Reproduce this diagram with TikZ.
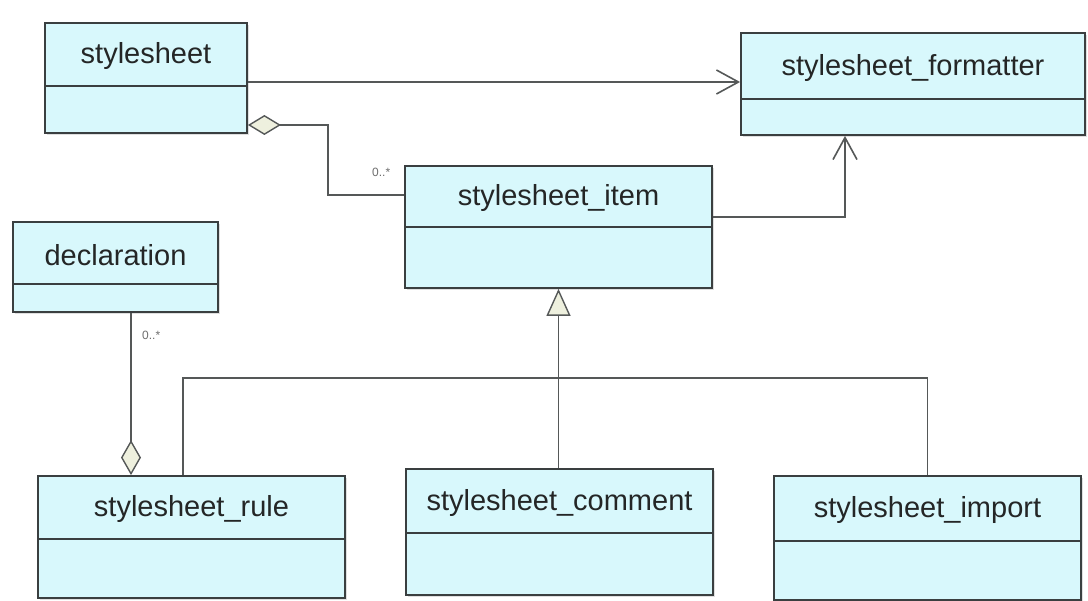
\documentclass[tikz,border=0pt]{standalone}
\usepackage{fontspec}
\setmainfont{Liberation Sans}
\usetikzlibrary{arrows.meta,fit,shadows}
\definecolor{boxfill}{RGB}{216,248,252}
\definecolor{boxline}{RGB}{58,63,64}
\definecolor{conline}{RGB}{85,88,88}
\definecolor{tipfill}{RGB}{238,240,222}
\definecolor{txt}{RGB}{36,38,38}
\definecolor{multc}{RGB}{110,110,110}
\tikzset{
  classbox/.style={draw=boxline, line width=1.8pt, fill=boxfill, inner sep=0pt,
    drop shadow={shadow xshift=2pt, shadow yshift=-2pt, opacity=0.25}},
  classname/.style={text=txt, font=\fontsize{29}{34}\selectfont, inner sep=0pt},
  divider/.style={draw=boxline, line width=1.8pt},
  conn/.style={draw=conline, line width=1.6pt},
  navtip/.style={-{Straight Barb[length=22pt,width=24pt,line width=1.6pt]}},
  aggtip/.style={{Diamond[length=33pt,width=20pt,fill=tipfill,line width=1.4pt]}-},
  gentip/.style={-{Triangle[length=27pt,width=24pt,fill=tipfill,line width=1.4pt]}},
  mult/.style={text=multc, font=\fontsize{12}{14}\selectfont, inner sep=0pt}
}
\newcommand\umlclass[7]{%
  \node[classbox, fit={(#2,#3)(#4,#5)}] (#1) {};
  \draw[divider] (#2,#6) -- (#4,#6);
  \node[classname] (#1-name) at ({(#2+#4)/2},{(#3+#6)/2+2}) {#7};
}
\begin{document}
\begin{tikzpicture}[x=1pt,y=-1pt]
\useasboundingbox (0,0) rectangle (1088,601);
\fill[white] (0,0) rectangle (1088,601);

\umlclass{ss}{45}{23}{247}{133}{86}{stylesheet}
\umlclass{fm}{741}{33}{1085}{135}{99}{stylesheet\_formatter}
\umlclass{item}{405}{166}{712}{288}{227}{stylesheet\_item}
\umlclass{decl}{13}{222}{218}{312}{284}{declaration}
\umlclass{rule}{38}{476}{345}{598}{539}{stylesheet\_rule}
\umlclass{comment}{406}{469}{713}{595}{533}{stylesheet\_comment}
\umlclass{import}{774}{476}{1081}{600}{541}{stylesheet\_import}

% stylesheet -> formatter
\draw[conn, navtip] (ss.east |- 0,82) -- (fm.west |- 0,82);

% stylesheet <>-- item
\coordinate (a1) at (328,125);
\coordinate (a2) at (328,195);
\draw[conn, aggtip] (ss.east |- a1) -- (a1) -- (a2) -- (item.west |- a2);
\node[mult, anchor=west] (m1) at (372,172) {0..*};

% item -> formatter
\coordinate (b1) at (845,217);
\draw[conn, navtip] (item.east |- b1) -- (b1) -- (fm.south -| b1);

% generalization
\coordinate (j) at (item.south |- 0,378);
\coordinate (r) at (183,378);
\draw[conn] (j) -- (comment.north -| j);
\draw[conn, gentip] (j) -- (item.south);
\draw[conn] (rule.north -| r) -- (r) -- (j) -| (import.north);

% declaration --<> rule
\coordinate (d) at (131,0);
\draw[conn, {-Diamond[length=35pt,width=20pt,fill=tipfill,line width=1.4pt]}] (decl.south -| d) -- (rule.north -| d);
\node[mult, anchor=west] (m2) at (142,335) {0..*};
\end{tikzpicture}
\end{document}
